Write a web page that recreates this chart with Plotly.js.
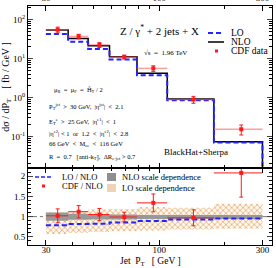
<!DOCTYPE html>
<html><head><meta charset="utf-8">
<script src="https://cdn.plot.ly/plotly-3.0.1.min.js"></script>
<style>html,body{margin:0;padding:0;background:#fff}#chart{width:276px;height:268px}</style>
</head><body><div id="chart"></div>
<script>
// ---- data ----
const binEdges   = [30, 38, 47, 59, 79, 109, 179, 300];          // jet pT bins [GeV]
const nloXsec    = [53.9, 33.0, 21.3, 11.1, 4.18, 0.916, 0.0736]; // fb/GeV
const loXsec     = [42.5, 27.0, 17.5, 9.5, 3.72, 0.85, 0.070];
const cdfXsec    = [55.0, 37.0, 22.4, 11.0, 5.6, 0.89, 0.153];
const cdfErr     = [9.2, 5.0, 3.2, 1.3, 0.92, 0.18, 0.044];
const nloScaleLo = [0.90, 0.92, 0.93, 0.93, 0.94, 0.94, 0.94];   // ratio to NLO
const nloScaleHi = [1.10, 1.07, 1.05, 1.05, 1.04, 1.04, 1.04];
const loScaleLo  = [0.57, 0.60, 0.62, 0.64, 0.66, 0.68, 0.70];
const loScaleHi  = [1.11, 1.14, 1.18, 1.19, 1.24, 1.22, 1.32];
const xTicks = [30, 100, 300];
const xMinor = [40, 50, 60, 70, 80, 90, 200];
const topTicks = [0.1, 1, 10, 100];
const topTickText = ['10<sup>-1</sup>', '10<sup>0</sup>', '10<sup>1</sup>', '10<sup>2</sup>'];
const ratioTicks = [0.5, 1, 1.5, 2];

// ---- helpers ----
const FONT = 'Liberation Serif, Times New Roman, serif';
const topRange = [-1.81, 2.35];
const xRange = [Math.log10(24.8), Math.log10(332)];
const centers = binEdges.slice(0, -1).map((e, i) => (e + binEdges[i + 1]) / 2);
const halfW = binEdges.slice(0, -1).map((e, i) => (binEdges[i + 1] - e) / 2);
const step = v => v.concat([v[v.length - 1]]);
const floorVal = Math.pow(10, topRange[0] - 1);
const stepDropX = binEdges.concat([binEdges[binEdges.length - 1]]);
const stepDrop = v => step(v).concat([floorVal]);
const ratio = (a, b) => a.map((v, i) => v / b[i]);
const minorLog = [];
for (let d = -2; d <= 2; d++) for (let k = 2; k <= 9; k++) minorLog.push(k * Math.pow(10, d));

const RED = '#ff1a1a';
const BLUE = '#2323ff';

const traces = [
  // top panel
  {x: stepDropX, y: stepDrop(nloXsec), xaxis: 'x2', yaxis: 'y2', mode: 'lines',
   line: {shape: 'hv', color: '#000', width: 1.5}, hoverinfo: 'skip'},
  {x: stepDropX, y: stepDrop(loXsec), xaxis: 'x2', yaxis: 'y2', mode: 'lines',
   line: {shape: 'hv', color: BLUE, width: 2, dash: '5px,3px'}, hoverinfo: 'skip'},
  {x: centers, y: cdfXsec, xaxis: 'x2', yaxis: 'y2', mode: 'markers',
   marker: {color: RED, size: 4, symbol: 'square'},
   error_x: {type: 'data', array: halfW, color: 'rgba(255,80,80,0.55)', thickness: 1.5, width: 0},
   error_y: {type: 'data', array: cdfErr, color: RED, thickness: 1, width: 2}},
  // ratio panel
  {x: binEdges, y: step(loScaleHi), xaxis: 'x', yaxis: 'y', mode: 'lines',
   line: {shape: 'hv', width: 0}, hoverinfo: 'skip'},
  {x: binEdges, y: step(loScaleLo), xaxis: 'x', yaxis: 'y', mode: 'lines',
   line: {shape: 'hv', width: 0}, fill: 'tonexty', fillcolor: 'rgba(0,0,0,0)',
   fillpattern: {shape: 'x', size: 4, solidity: 0.3, fgcolor: '#dc9a5a', bgcolor: 'rgba(255,248,238,1)'},
   hoverinfo: 'skip'},
  {x: binEdges, y: step(nloScaleHi), xaxis: 'x', yaxis: 'y', mode: 'lines',
   line: {shape: 'hv', width: 0}, hoverinfo: 'skip'},
  {x: binEdges, y: step(nloScaleLo), xaxis: 'x', yaxis: 'y', mode: 'lines',
   line: {shape: 'hv', width: 0}, fill: 'tonexty', fillcolor: '#999999', hoverinfo: 'skip'},
  {x: binEdges, y: step(ratio(loXsec, nloXsec)), xaxis: 'x', yaxis: 'y', mode: 'lines',
   line: {shape: 'hv', color: BLUE, width: 2, dash: '5px,3px'}, hoverinfo: 'skip'},
  {x: centers, y: ratio(cdfXsec, nloXsec), xaxis: 'x', yaxis: 'y', mode: 'markers',
   marker: {color: RED, size: 4, symbol: 'square'},
   error_x: {type: 'data', array: halfW, color: RED, thickness: 1, width: 0},
   error_y: {type: 'data', array: ratio(cdfErr, nloXsec), color: RED, thickness: 1, width: 2}}
];

// pixel -> paper
const L = 28, R = 272, T = 6, B = 245;
const px = x => (x - L) / (R - L);
const py = y => (B - y) / (B - T);
const splitY = 168;
const dom = (B - splitY) / (B - T);

const txt = (x, y, text, size, extra) => Object.assign({
  xref: 'paper', yref: 'paper', x: px(x), y: py(y), text: text, showarrow: false,
  xanchor: 'left', yanchor: 'middle', font: {family: FONT, size: size, color: '#000'}
}, extra || {});

const annotations = [
  txt(118, 30, 'Z / γ<sup>*</sup> + 2 jets + X', 11),
  txt(229, 33, 'LO', 9.5), txt(229, 42, 'NLO', 9.5), txt(229, 51, 'CDF data', 9.5),
  txt(142, 53, '√s  =  1.96 TeV', 7),
  txt(52, 90, 'μ<sub>R</sub>  =  μ<sub>F</sub>  =  Ĥ<sub>T</sub> / 2', 6.5),
  txt(47, 106, 'P<sub>T</sub><sup>jet</sup>  >  30 GeV,  |η<sup>jet</sup>|  <  2.1', 6.5),
  txt(47, 121, 'E<sub>T</sub><sup>e</sup>  >  25 GeV,  |η<sup>e1</sup>|  <  1', 6.5),
  txt(47, 133, '|η<sup>e2</sup>| < 1  or  1.2  <  |η<sup>e2</sup>|  <  2.8', 6.5),
  txt(47, 144, '66 GeV  <  M<sub>ee</sub>  <  116 GeV', 6.5),
  txt(47, 157, 'R  =  0.7   [anti-k<sub>T</sub>],  ΔR<sub>e-jet</sub> > 0.7', 6.5),
  txt(162, 152, 'BlackHat+Sherpa', 9),
  txt(60, 177, 'LO / NLO', 8.5), txt(60, 186, 'CDF / NLO', 8.5),
  txt(120, 177, 'NLO scale dependence', 8.5), txt(120, 188, 'LO scale dependence', 8.5),
  // x-axis title
  txt(150, 269, 'Jet  P<sub>T</sub>   [ GeV ]', 9.5, {xanchor: 'center', yanchor: 'bottom'})
];

const shapes = [
  // top legend keys
  {type: 'line', xref: 'paper', yref: 'paper', x0: px(208), x1: px(224), y0: py(33), y1: py(33),
   line: {color: BLUE, width: 2, dash: '5px,3px'}},
  {type: 'line', xref: 'paper', yref: 'paper', x0: px(208), x1: px(224), y0: py(42), y1: py(42),
   line: {color: '#000', width: 1.5}},
  {type: 'rect', xref: 'paper', yref: 'paper', x0: px(215), x1: px(218), y0: py(49.5), y1: py(52.5),
   fillcolor: RED, line: {width: 0}},
  // ratio legend keys
  {type: 'line', xref: 'paper', yref: 'paper', x0: px(35), x1: px(52), y0: py(177), y1: py(177),
   line: {color: BLUE, width: 1.5, dash: '4px,2px'}},
  {type: 'rect', xref: 'paper', yref: 'paper', x0: px(42), x1: px(45), y0: py(184.5), y1: py(187.5),
   fillcolor: RED, line: {width: 0}},
  {type: 'rect', xref: 'paper', yref: 'paper', x0: px(107), x1: px(116), y0: py(173), y1: py(181),
   fillcolor: '#8f8f8f', line: {width: 0}},
  {type: 'rect', xref: 'paper', yref: 'paper', x0: px(107), x1: px(116), y0: py(184), y1: py(192),
   fillcolor: 'rgba(225,165,105,0.5)', line: {width: 0}},
  // unity reference line
  {type: 'line', xref: 'paper', yref: 'y', x0: 0, x1: 1, y0: 1, y1: 1,
   line: {color: '#777', width: 1, dash: 'dashdot'}, layer: 'below'}
];

const axisCommon = {
  type: 'log', range: xRange, showgrid: false, zeroline: false,
  showline: true, linecolor: '#000', linewidth: 1, mirror: 'allticks',
  ticks: 'inside', ticklen: 5, tickcolor: '#000',
  tickvals: xTicks, ticktext: xTicks.map(String),
  minor: {tickvals: xMinor, ticks: 'inside', ticklen: 3, tickcolor: '#000'},
  tickfont: {family: FONT, size: 9, color: '#000'}
};

const layout = {
  width: 276, height: 268,
  margin: {l: L, r: 276 - R, t: T, b: 268 - B},
  paper_bgcolor: '#fff', plot_bgcolor: '#fff',
  showlegend: false,
  xaxis: Object.assign({}, axisCommon, {anchor: 'y', domain: [0, 1], ticklabelstandoff: -4}),
  xaxis2: Object.assign({}, axisCommon, {anchor: 'y2', side: 'top', matches: 'x', domain: [0, 1]}),
  yaxis: {domain: [0, dom], range: [0.3, 2.2], showgrid: false, zeroline: false,
    showline: true, linecolor: '#000', mirror: 'allticks', ticks: 'inside', ticklen: 5,
    tickvals: ratioTicks, ticktext: ratioTicks.map(String),
    minor: {dtick: 0.1, ticks: 'inside', ticklen: 3, tickcolor: '#000'},
    tickfont: {family: FONT, size: 9, color: '#000'}},
  yaxis2: {domain: [dom, 1], type: 'log', range: topRange, showgrid: false, zeroline: false,
    showline: true, linecolor: '#000', mirror: 'allticks', ticks: 'inside', ticklen: 5,
    tickvals: topTicks, ticktext: topTickText,
    minor: {tickvals: minorLog, ticks: 'inside', ticklen: 3, tickcolor: '#000'},
    tickfont: {family: FONT, size: 9, color: '#000'},
    title: {text: 'dσ / dP<sub>T</sub>    [ fb / GeV ]', font: {family: FONT, size: 10, color: '#000'}, standoff: 2}},
  annotations: annotations,
  shapes: shapes
};

Plotly.newPlot('chart', traces, layout, {staticPlot: true, displayModeBar: false});
</script>
</body></html>
